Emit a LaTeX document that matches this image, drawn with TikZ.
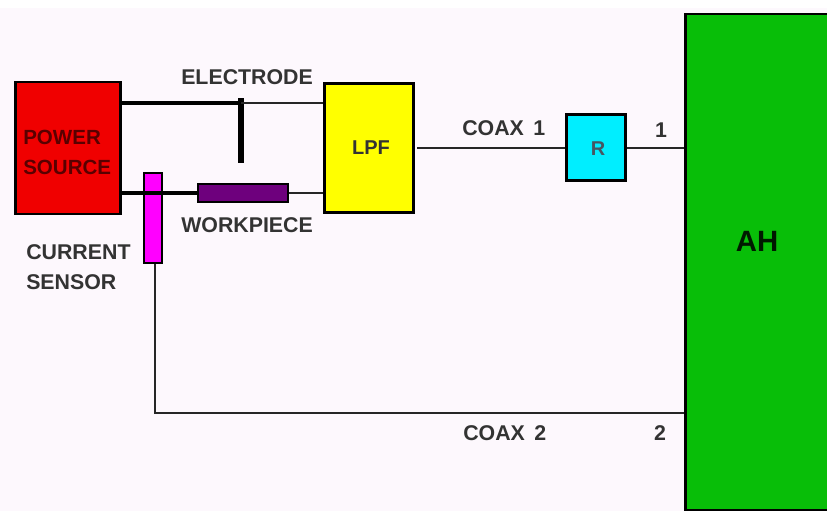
\documentclass[tikz,border=0pt]{standalone}
\usepackage{fontspec}
\setmainfont{Liberation Sans}
\usepackage{xcolor}
\definecolor{paper}{RGB}{253,248,253}
\definecolor{sourcered}{RGB}{240,0,0}
\definecolor{filteryellow}{RGB}{255,255,0}
\definecolor{loadcyan}{RGB}{0,238,255}
\definecolor{hostgreen}{RGB}{8,190,8}
\definecolor{sensormagenta}{RGB}{255,0,255}
\definecolor{piecepurple}{RGB}{110,0,125}
\usetikzlibrary{positioning}
\tikzset{
    block/.style={draw=black, line width=2.2pt, inner sep=0pt, align=center},
    tag/.style={inner sep=0pt, align=left, text=black!80, font=\fontsize{16}{22.5}\selectfont\bfseries},
    thinwire/.style={line width=1pt, black!85},
    heavywire/.style={line width=2.4pt, black}
}
\begin{document}
\begin{tikzpicture}[x=0.75pt, y=-0.75pt]
\useasboundingbox (0,0) rectangle (827,511);
\fill[paper] (0,8) rectangle (827,511);

% blocks
\node[block, fill=sourcered, minimum width=79pt, minimum height=99pt] (power) at (68,148) {};
\node[block, fill=filteryellow, minimum width=67pt, minimum height=97pt] (lpf) at (369,148) {};
\node[block, fill=loadcyan, minimum width=44pt, minimum height=49pt] (load) at (596,147.5) {};
\begin{scope}
\clip (0,0) rectangle (827,511);
\node[block, fill=hostgreen, minimum width=130pt, minimum height=372pt] (host) at (772,262) {};
\end{scope}

% workpiece and sensor
\node[block, line width=1.6pt, fill=piecepurple, minimum width=67pt, minimum height=14pt] (piece) at (243,193) {};
\node[block, line width=1.6pt, fill=sensormagenta, minimum width=14pt, minimum height=67pt] (sensor) at (153,218) {};
\node[fill=black, inner sep=0pt, minimum width=4.5pt, minimum height=49pt] (electrode) at (241,130.5) {};

\coordinate (upper) at (241,103);
\coordinate (lower) at (153,193);
\coordinate (corner) at (155,413);
\coordinate (lpfout) at (417,148);

% wires
\draw[thinwire] (upper) -- (lpf.west |- upper);
\draw[thinwire] (piece.east) -- (lpf.west |- lower);
\draw[thinwire] (lpfout) -- (load.west |- lpfout);
\draw[thinwire] (load.east |- lpfout) -- (host.west |- lpfout);
\draw[thinwire] (sensor.south -| corner) -- (corner) -- (host.west |- corner);
\draw[heavywire] (power.east |- upper) -- (upper);
\draw[heavywire] (power.east |- lower) -- (piece.west);

% labels
\node[tag, anchor=west, text=black!65!red, font=\fontsize{15.4}{22.5}\selectfont\bfseries] (powertext) at (23,152.5) {POWER\\SOURCE};
\node[tag, anchor=west] (electrodetext) at (181,77) {ELECTRODE};
\node[tag, anchor=west] (piecetext) at (181,225) {WORKPIECE};
\node[tag, anchor=west] (sensortext) at (26,267.5) {CURRENT\\SENSOR};
\node[tag, font=\fontsize{15}{18}\selectfont\bfseries] (lpftext) at (371,148) {LPF};
\node[tag, font=\fontsize{15}{18}\selectfont\bfseries, text=black!70!cyan] (loadtext) at (598,149) {R};
\node[tag, font=\fontsize{22}{26}\selectfont\bfseries, text=black!90!green] (hosttext) at (757,241) {AH};
\node[tag, anchor=west] (coaxa) at (462,128) {COAX\, 1};
\node[tag, anchor=west] (coaxb) at (463,433) {COAX\, 2};
\node[tag] (porta) at (661,130) {1};
\node[tag] (portb) at (660,433) {2};
\end{tikzpicture}
\end{document}
